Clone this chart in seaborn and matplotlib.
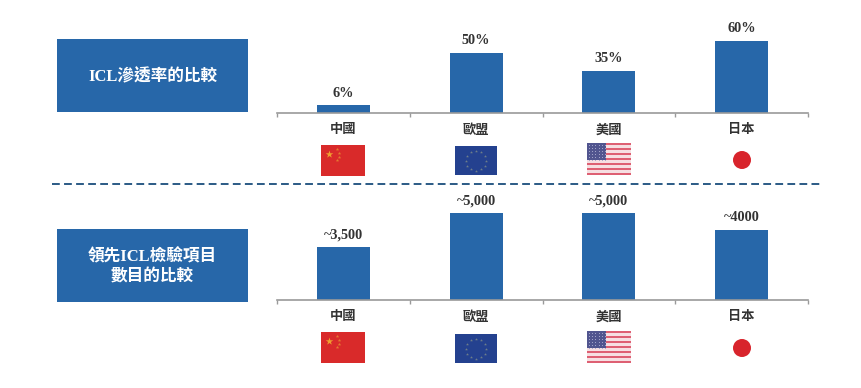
import numpy as np
import pandas as pd
import matplotlib
matplotlib.use("Agg")
import matplotlib.pyplot as plt
from matplotlib.patches import Rectangle, Circle
import seaborn as sns

sns.set_theme(style="white")
FONT = ['Liberation Serif', 'Noto Sans CJK TC', 'DejaVu Sans']
plt.rcParams['font.family'] = FONT

# --- data ---
regions = ['中國', '歐盟', '美國', '日本']
penetration = [6, 50, 35, 60]
penetration_labels = ['6%', '50%', '35%', '60%']
tests_bar_height = [3050, 5000, 5000, 4020]   # drawn height (not to scale in the source)
tests_labels = ['~3,500', '~5,000', '~5,000', '~4000']
box_titles = ['ICL滲透率的比較', '領先ICL檢驗項目\n數目的比較']

W, H = 862, 388
BLUE = '#2767a9'
AX_GREY = '#9a9a9a'
TXT = '#333333'

fig = plt.figure(figsize=(W / 100, H / 100), dpi=100, facecolor='white')


def px_axes(x0, x1, ytop, ybot, **kw):
    return fig.add_axes([x0 / W, 1 - ybot / H, (x1 - x0) / W, (ybot - ytop) / H], **kw)


def bar_panel(values, labels, ytop, ybot, ymax, pad):
    ax = px_axes(277, 808, ytop, ybot)
    df = pd.DataFrame({'region': regions, 'value': values})
    sns.barplot(data=df, x='region', y='value', ax=ax, color=BLUE, saturation=1,
                width=0.4, order=regions, linewidth=0, edgecolor='none')
    ax.set_xlim(-0.5, 3.5)
    ax.set_ylim(0, ymax)
    ax.patch.set_alpha(0)
    ax.set_xlabel('')
    ax.set_ylabel('')
    ax.set_yticks([])
    for s in ['top', 'left', 'right']:
        ax.spines[s].set_visible(False)
    ax.spines['bottom'].set_color(AX_GREY)
    ax.spines['bottom'].set_linewidth(1.2)
    ax.set_xticks(range(len(regions)))
    ax.set_xticklabels(regions, fontsize=9.5, fontweight='bold', color=TXT, family=FONT)
    ax.tick_params(axis='x', which='major', length=0, pad=8.5)
    ax.set_xticks(np.arange(-0.5, 4, 1), minor=True)
    ax.tick_params(axis='x', which='minor', length=3, width=1, color=AX_GREY, bottom=True)
    for i, (v, lab) in enumerate(zip(values, labels)):
        ax.annotate(lab, (i, v), xytext=(0, pad), textcoords='offset points', ha='center', va='bottom',
                    fontsize=10.3, fontweight='bold', color=TXT, family=FONT, annotation_clip=False)
    return ax


bar_panel(penetration, penetration_labels, 41, 112.5, 60, 4)
bar_panel(tests_bar_height, tests_labels, 213, 299.5, 5000, 4)

# --- overlay in pixel coordinates for boxes, divider and flags ---
ov = fig.add_axes([0, 0, 1, 1], zorder=-1)
ov.set_xlim(0, W)
ov.set_ylim(H, 0)
ov.axis('off')

for (y0, y1), title in zip([(39, 112), (229, 302)], box_titles):
    ov.add_patch(Rectangle((57, y0), 191, y1 - y0, fc=BLUE, ec='none'))
    ov.text(152.5, (y0 + y1) / 2 + 2, title, color='white', ha='center', va='center', fontsize=12,
            fontweight='bold', family=FONT, linespacing=1.3)

ov.plot([52, 820], [184, 184], color='#2b5a85', lw=1.4, dashes=(4, 2.2))


def flag_china(x0, y0, w=44, h=31):
    ov.add_patch(Rectangle((x0, y0), w, h, fc='#d92a2a', ec='none'))
    ov.scatter([x0 + 8], [y0 + 9], marker='*', s=32, color='#f0a030', lw=0)
    ov.scatter([x0 + 16, x0 + 18, x0 + 18, x0 + 16], [y0 + 4, y0 + 8, y0 + 12, y0 + 15],
               marker='*', s=7, color='#e67a30', lw=0)


def flag_eu(x0, y0, w=42, h=29):
    ov.add_patch(Rectangle((x0, y0), w, h, fc='#24418f', ec='none'))
    a = np.deg2rad(np.arange(0, 360, 30))
    ov.scatter(x0 + w / 2 + 10 * np.cos(a), y0 + h / 2 + 10 * np.sin(a), marker='*', s=5,
               color='#6f7f8a', lw=0)


def flag_us(x0, y0, w=44, h=32):
    ov.add_patch(Rectangle((x0, y0), w, h, fc='#f6dfe2', ec='none'))
    sh = h / 13
    for k in range(0, 13, 2):
        ov.add_patch(Rectangle((x0, y0 + k * sh), w, sh, fc='#de6073', ec='none'))
    ov.add_patch(Rectangle((x0, y0), 19, 7 * sh, fc='#51558f', ec='none'))
    xs, ys = np.meshgrid(np.arange(x0 + 2, x0 + 19, 3.2), np.arange(y0 + 2, y0 + 7 * sh, 3))
    ov.scatter(xs.ravel(), ys.ravel(), marker='.', s=2, color='#a6a8cc', lw=0)


def flag_japan(cx, cy, r=9):
    ov.add_patch(Circle((cx, cy), r, fc='#d8242c', ec='none'))


flag_china(321, 145)
flag_eu(455, 146)
flag_us(587, 143)
flag_japan(742, 160)
flag_china(321, 332)
flag_eu(455, 334)
flag_us(587, 331)
flag_japan(742, 348)

fig.savefig('out.png', dpi=100, facecolor='white')
